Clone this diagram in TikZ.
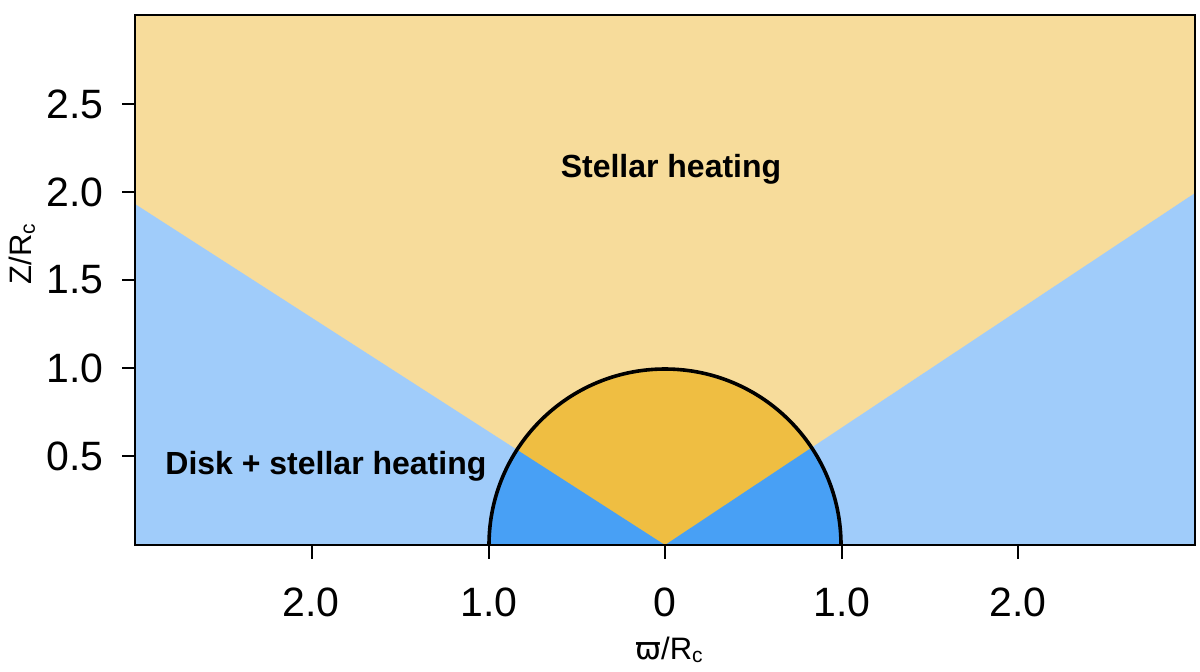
\documentclass[tikz,border=0pt]{standalone}
\usepackage{fontspec}
\setmainfont{Liberation Sans}
\newfontfamily\dvfont{DejaVu Sans}
\definecolor{lyellow}{RGB}{247,220,155}
\definecolor{dyellow}{RGB}{239,190,66}
\definecolor{lblue}{RGB}{160,204,250}
\definecolor{dblue}{RGB}{72,160,245}
\begin{document}
\begin{tikzpicture}[x=0.5pt,y=-0.5pt,
  ticklab/.style={inner sep=0pt,font=\fontsize{20.5}{24}\selectfont},
  regionlab/.style={inner sep=0pt,font=\fontsize{16}{19}\selectfont\bfseries},
  axlab/.style={inner sep=0pt,font=\fontsize{15.5}{18}\selectfont},
  frame/.style={draw=black,line width=1.4pt},
  tickline/.style={draw=black,line width=1.3pt}]
\useasboundingbox (0,0) rectangle (1200,671);
% regions
\fill[lyellow] (135,15) rectangle (1195,545);
\fill[lblue] (135,204) -- (665,545) -- (135,545) -- cycle;
\fill[lblue] (1195,193) -- (665,545) -- (1195,545) -- cycle;
\begin{scope}
  \clip (665,545) circle[radius=88pt];
  \fill[dyellow] (400,300) rectangle (930,545);
  \fill[dblue] (135,204) -- (665,545) -- (135,545) -- cycle;
  \fill[dblue] (1195,193) -- (665,545) -- (1195,545) -- cycle;
\end{scope}
\draw[line width=1.8pt] (489,545) arc[start angle=180,end angle=0,radius=88pt];
\draw[frame] (135,15) rectangle (1195,545);
% ticks
\foreach \yy in {104,192,280,368,456} \draw[tickline] (122,\yy) -- (135,\yy);
\foreach \xx in {312,489,665,842,1018} \draw[tickline] (\xx,545) -- (\xx,559);
% tick labels
\node[ticklab,anchor=east] (y25) at (104,104) {2.5};
\node[ticklab,anchor=east] (y20) at (104,192) {2.0};
\node[ticklab,anchor=east] (y15) at (104,280) {1.5};
\node[ticklab,anchor=east] (y10) at (104,368) {1.0};
\node[ticklab,anchor=east] (y05) at (104,456) {0.5};
\node[ticklab] (xm2) at (311,602) {2.0};
\node[ticklab] (xm1) at (489,602) {1.0};
\node[ticklab] (x0) at (665,602) {0};
\node[ticklab] (xp1) at (842,602) {1.0};
\node[ticklab] (xp2) at (1018,602) {2.0};
% axis labels
\node[axlab] (xlab) at (669,650) {{\dvfont ϖ}/R{\fontsize{10.5}{11}\selectfont\raisebox{-1.8pt}{c}}};
\node[axlab,rotate=90] (ylab) at (22,254) {Z/R{\fontsize{10.5}{11}\selectfont\raisebox{-1.8pt}{c}}};
% region labels
\node[regionlab,anchor=base] (stellar) at (671,177) {Stellar heating};
\node[regionlab,anchor=base west] (disk) at (165,474) {Disk + stellar heating};
\end{tikzpicture}
\end{document}
